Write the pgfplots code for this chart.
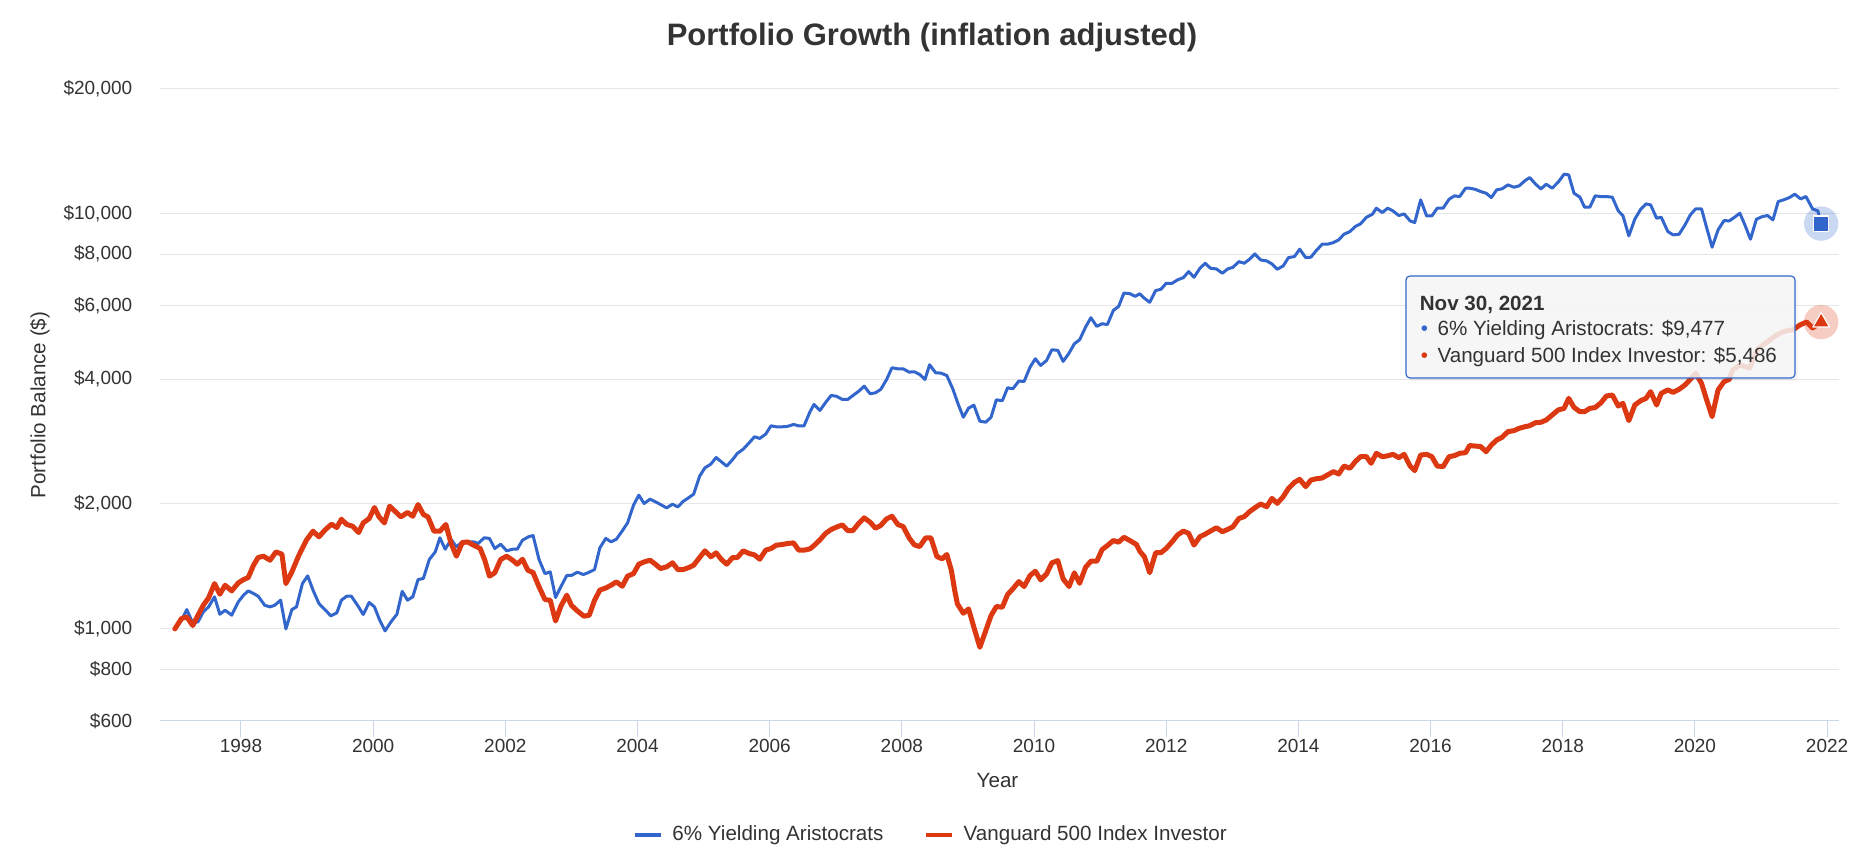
\documentclass[border=0pt]{standalone}
\usepackage{fontspec}
\setmainfont{Liberation Sans}
\usepackage{pgfplots}
\pgfplotsset{compat=1.18}
\usepackage{pgfplotstable}
\definecolor{cblue}{HTML}{3366CC}
\definecolor{cred}{HTML}{DC3912}
\definecolor{gridc}{HTML}{E6E6E6}
\definecolor{axisc}{HTML}{CCD6EB}
\definecolor{txt}{HTML}{333333}
\definecolor{tipfill}{HTML}{F7F7F7}

\pgfplotstableread{
x y
1997.00 1000
1997.10 1049
1997.18 1113
1997.27 1034
1997.35 1040
1997.43 1099
1997.51 1130
1997.60 1195
1997.68 1085
1997.76 1109
1997.86 1079
1997.96 1162
1998.04 1206
1998.11 1235
1998.19 1217
1998.26 1199
1998.36 1140
1998.44 1130
1998.51 1140
1998.60 1173
1998.68 1000
1998.77 1113
1998.84 1130
1998.93 1286
1999.01 1342
1999.09 1240
1999.18 1151
1999.27 1113
1999.36 1075
1999.45 1093
1999.52 1173
1999.60 1199
1999.67 1199
1999.78 1130
1999.85 1083
1999.94 1158
2000.02 1130
2000.10 1049
2000.18 989
2000.27 1040
2000.36 1085
2000.44 1232
2000.52 1173
2000.60 1195
2000.68 1315
2000.76 1323
2000.85 1470
2000.94 1533
2001.01 1658
2001.09 1556
2001.18 1642
2001.26 1577
2001.35 1621
2001.43 1621
2001.52 1621
2001.59 1606
2001.68 1658
2001.76 1652
2001.84 1562
2001.93 1600
2002.02 1542
2002.11 1556
2002.18 1556
2002.26 1636
2002.35 1667
2002.42 1679
2002.51 1470
2002.60 1359
2002.68 1372
2002.76 1190
2002.84 1263
2002.93 1345
2003.00 1345
2003.09 1370
2003.18 1352
2003.27 1370
2003.35 1390
2003.43 1568
2003.52 1652
2003.60 1621
2003.68 1645
2003.77 1723
2003.85 1801
2003.94 1987
2004.02 2100
2004.10 2005
2004.19 2054
2004.27 2024
2004.35 1994
2004.44 1957
2004.53 1998
2004.61 1968
2004.69 2028
2004.78 2074
2004.85 2112
2004.94 2334
2005.02 2444
2005.11 2495
2005.19 2588
2005.27 2527
2005.35 2467
2005.44 2560
2005.51 2647
2005.60 2711
2005.69 2808
2005.77 2904
2005.85 2877
2005.94 2947
2006.02 3086
2006.10 3069
2006.19 3069
2006.27 3076
2006.36 3109
2006.44 3086
2006.52 3086
2006.61 3335
2006.67 3474
2006.76 3360
2006.85 3519
2006.93 3652
2007.01 3636
2007.10 3572
2007.18 3572
2007.26 3652
2007.35 3741
2007.43 3846
2007.52 3686
2007.60 3707
2007.68 3776
2007.77 3992
2007.85 4258
2007.94 4234
2008.02 4234
2008.11 4157
2008.19 4165
2008.27 4103
2008.35 3992
2008.42 4330
2008.51 4142
2008.59 4134
2008.68 4080
2008.77 3790
2008.85 3487
2008.93 3237
2009.01 3404
2009.09 3461
2009.18 3166
2009.27 3149
2009.35 3237
2009.43 3566
2009.52 3546
2009.60 3811
2009.68 3790
2009.77 3955
2009.85 3948
2009.94 4274
2010.02 4476
2010.10 4313
2010.19 4435
2010.27 4706
2010.36 4690
2010.44 4411
2010.53 4619
2010.61 4865
2010.69 4974
2010.78 5338
2010.86 5621
2010.95 5357
2011.03 5437
2011.11 5412
2011.20 5853
2011.28 5985
2011.36 6446
2011.45 6422
2011.53 6328
2011.60 6422
2011.67 6261
2011.75 6124
2011.84 6535
2011.92 6583
2012.00 6806
2012.09 6806
2012.17 6933
2012.26 7023
2012.34 7261
2012.42 7036
2012.51 7396
2012.59 7604
2012.67 7396
2012.76 7369
2012.85 7194
2012.93 7369
2013.01 7437
2013.10 7674
2013.18 7604
2013.26 7776
2013.34 8010
2013.43 7747
2013.52 7704
2013.60 7576
2013.68 7356
2013.77 7493
2013.85 7848
2013.94 7892
2014.02 8220
2014.11 7848
2014.19 7866
2014.27 8159
2014.36 8451
2014.44 8451
2014.53 8529
2014.61 8656
2014.69 8933
2014.78 9066
2014.86 9322
2014.94 9460
2015.03 9816
2015.12 9982
2015.18 10320
2015.27 10074
2015.35 10320
2015.43 10168
2015.52 9908
2015.60 10000
2015.69 9619
2015.76 9530
2015.85 10809
2015.94 9890
2016.02 9890
2016.10 10320
2016.19 10320
2016.28 10848
2016.36 11050
2016.44 11010
2016.53 11532
2016.59 11532
2016.67 11468
2016.76 11318
2016.84 11214
2016.92 10948
2017.00 11426
2017.08 11489
2017.17 11748
2017.26 11596
2017.34 11682
2017.43 12032
2017.50 12234
2017.59 11790
2017.67 11489
2017.75 11790
2017.84 11532
2017.93 11920
2018.02 12464
2018.09 12417
2018.17 11214
2018.26 10970
2018.33 10377
2018.41 10377
2018.49 11050
2018.58 11010
2018.66 11010
2018.75 10970
2018.84 10168
2018.91 9908
2019.00 8851
2019.09 9708
2019.18 10262
2019.26 10571
2019.33 10512
2019.42 9762
2019.49 9816
2019.59 9066
2019.67 8901
2019.76 8933
2019.85 9408
2019.93 9945
2020.01 10281
2020.10 10281
2020.17 9356
2020.26 8311
2020.35 9151
2020.44 9636
2020.52 9619
2020.60 9816
2020.68 10037
2020.76 9373
2020.84 8689
2020.93 9708
2021.02 9853
2021.10 9908
2021.18 9672
2021.26 10708
2021.34 10809
2021.43 10948
2021.51 11154
2021.60 10867
2021.68 11010
2021.78 10281
2021.86 10168
2021.91 9477
}\bluedata

\pgfplotstableread{
x y
1997.00 1000
1997.10 1059
1997.18 1069
1997.27 1019
1997.35 1079
1997.43 1140
1997.51 1188
1997.60 1286
1997.68 1212
1997.76 1274
1997.86 1235
1997.96 1291
1998.04 1315
1998.11 1330
1998.19 1424
1998.26 1486
1998.34 1497
1998.44 1464
1998.53 1533
1998.62 1514
1998.68 1286
1998.77 1372
1998.87 1497
1998.99 1636
1999.09 1720
1999.18 1667
1999.27 1730
1999.37 1788
1999.45 1755
1999.52 1838
1999.60 1785
1999.69 1768
1999.78 1707
1999.85 1801
1999.94 1845
2000.02 1961
2000.09 1862
2000.17 1801
2000.25 1976
2000.34 1915
2000.42 1862
2000.52 1908
2000.60 1869
2000.68 1994
2000.76 1887
2000.83 1862
2000.92 1720
2001.01 1720
2001.10 1785
2001.18 1606
2001.26 1497
2001.35 1615
2001.43 1620
2001.52 1591
2001.62 1562
2001.69 1464
2001.76 1340
2001.84 1365
2001.93 1470
2002.02 1497
2002.11 1464
2002.18 1432
2002.26 1472
2002.34 1385
2002.42 1367
2002.51 1263
2002.60 1177
2002.68 1172
2002.76 1045
2002.84 1134
2002.93 1206
2003.00 1140
2003.09 1105
2003.19 1073
2003.27 1079
2003.35 1172
2003.43 1240
2003.52 1255
2003.60 1274
2003.68 1298
2003.77 1267
2003.85 1340
2003.94 1359
2004.02 1432
2004.10 1450
2004.19 1464
2004.27 1432
2004.35 1398
2004.44 1411
2004.53 1443
2004.61 1390
2004.69 1390
2004.78 1406
2004.85 1424
2004.94 1486
2005.02 1542
2005.11 1492
2005.19 1525
2005.27 1470
2005.35 1432
2005.44 1486
2005.51 1486
2005.60 1542
2005.69 1519
2005.77 1508
2005.85 1472
2005.94 1548
2006.02 1562
2006.10 1591
2006.19 1597
2006.27 1606
2006.36 1612
2006.44 1548
2006.52 1548
2006.61 1559
2006.67 1588
2006.76 1639
2006.85 1701
2006.93 1736
2007.01 1759
2007.10 1781
2007.18 1726
2007.26 1726
2007.35 1798
2007.43 1852
2007.52 1808
2007.60 1749
2007.68 1775
2007.77 1842
2007.85 1869
2007.94 1784
2008.02 1765
2008.11 1657
2008.19 1594
2008.27 1579
2008.36 1657
2008.44 1657
2008.53 1494
2008.61 1475
2008.68 1511
2008.75 1382
2008.80 1237
2008.84 1149
2008.93 1091
2009.01 1117
2009.09 1009
2009.18 903
2009.27 991
2009.35 1077
2009.43 1132
2009.52 1128
2009.60 1210
2009.68 1249
2009.77 1300
2009.85 1265
2009.94 1345
2010.02 1377
2010.10 1313
2010.19 1357
2010.27 1443
2010.36 1461
2010.44 1320
2010.53 1265
2010.61 1365
2010.69 1288
2010.78 1408
2010.86 1456
2010.95 1456
2011.03 1553
2011.11 1588
2011.20 1633
2011.28 1618
2011.36 1663
2011.45 1633
2011.55 1597
2011.60 1539
2011.67 1492
2011.75 1366
2011.84 1526
2011.92 1526
2012.00 1563
2012.09 1622
2012.17 1683
2012.26 1721
2012.34 1699
2012.42 1592
2012.51 1668
2012.59 1692
2012.67 1721
2012.76 1753
2012.85 1715
2012.93 1737
2013.01 1763
2013.10 1846
2013.18 1864
2013.26 1916
2013.35 1963
2013.43 2000
2013.52 1970
2013.60 2063
2013.68 2007
2013.77 2082
2013.85 2181
2013.94 2255
2014.02 2293
2014.11 2202
2014.19 2284
2014.27 2300
2014.36 2310
2014.44 2349
2014.53 2393
2014.61 2362
2014.69 2469
2014.78 2438
2014.86 2529
2014.94 2600
2015.03 2600
2015.10 2506
2015.18 2649
2015.27 2600
2015.35 2612
2015.43 2634
2015.52 2586
2015.60 2634
2015.69 2469
2015.76 2406
2015.85 2624
2015.94 2634
2016.02 2600
2016.10 2469
2016.19 2460
2016.28 2600
2016.36 2615
2016.44 2649
2016.53 2659
2016.59 2765
2016.67 2759
2016.76 2749
2016.84 2673
2016.92 2774
2017.00 2852
2017.08 2894
2017.17 2987
2017.26 3004
2017.34 3043
2017.43 3071
2017.50 3088
2017.59 3140
2017.67 3147
2017.75 3187
2017.84 3276
2017.93 3369
2018.02 3400
2018.09 3594
2018.17 3419
2018.26 3338
2018.33 3338
2018.41 3400
2018.49 3415
2018.58 3509
2018.66 3640
2018.75 3661
2018.84 3444
2018.91 3496
2019.00 3176
2019.09 3463
2019.18 3548
2019.26 3594
2019.33 3730
2019.42 3463
2019.49 3696
2019.59 3765
2019.67 3716
2019.76 3779
2019.85 3871
2019.93 3994
2020.01 4129
2020.10 3907
2020.17 3594
2020.26 3247
2020.35 3765
2020.44 3943
2020.52 3994
2020.57 4206
2020.68 4325
2020.83 4253
2020.94 4699
2021.03 4832
2021.13 4968
2021.23 5099
2021.33 5194
2021.41 5240
2021.48 5252
2021.59 5400
2021.69 5490
2021.78 5311
2021.91 5486
}\reddata

\begin{document}
\begin{tikzpicture}[x=1pt,y=1pt]
\useasboundingbox (0pt,0pt) rectangle (932.5pt,427.5pt);
\fill[white] (0pt,0pt) rectangle (932.5pt,427.5pt);
\begin{axis}[
  at={(80pt,67pt)}, anchor=south west,
  scale only axis, width=839.5pt, height=316pt,
  xmin=1996.775, xmax=2022.18,
  ymode=log, log basis y=10, ymin=600, ymax=20000,
  axis x line*=bottom, axis y line*=left,
  x axis line style={draw=axisc, line width=0.5pt, -},
  y axis line style={draw=none},
  xtick={1998,2000,...,2022},
  xticklabels={1998,2000,2002,2004,2006,2008,2010,2012,2014,2016,2018,2020,2022},
  ytick={600,800,1000,2000,4000,6000,8000,10000,20000},
  yticklabels={{\$600},{\$800},{\$1,000},{\$2,000},{\$4,000},{\$6,000},{\$8,000},{\$10,000},{\$20,000}},
  tick align=outside, major tick length=8pt,
  xtick style={draw=axisc, line width=0.5pt},
  ytick style={draw=none},
  minor tick num=0,
  ymajorgrids, major grid style={draw=gridc, line width=0.5pt},
  tick label style={font=\fontsize{9.5}{11}\selectfont, text=txt},
  xticklabel style={anchor=north, inner sep=0pt, yshift=-0.8pt},
  yticklabel style={anchor=east, inner sep=0pt, xshift=-5.7pt},
  clip=false,
  every axis plot/.append style={line join=round, line cap=round},
  legend style={at={(0.4586,-0.1804)}, anchor=center, draw=none, fill=none,
    legend columns=2, font=\fontsize{10.3}{12}\selectfont, text=txt,
    nodes={inner sep=0pt},
    /tikz/every odd column/.append style={column sep=5pt},
    /tikz/every even column/.append style={column sep=20.5pt}},
  legend cell align=left,
  legend image code/.code={\draw[#1, line width=1.6pt, line cap=butt] (0pt,0pt) -- (13pt,0pt);},
]
\addplot[cblue, line width=1.5pt, no marks] table[x=x, y=y] {\bluedata};
\addlegendentry{6\% Yielding Aristocrats}
\addplot[cred, line width=2.5pt, no marks] table[x=x, y=y] {\reddata};
\addlegendentry{Vanguard 500 Index Investor}
\addplot[forget plot, only marks, draw=none, mark=*, mark size=8.6pt, mark options={draw=none, draw opacity=0, fill=cblue, fill opacity=0.25}] coordinates {(2021.91,9477)};
\addplot[forget plot, only marks, mark=square*, mark size=3.8pt, mark options={draw=white, line width=0.6pt, fill=cblue}] coordinates {(2021.91,9477)};
\addplot[forget plot, only marks, draw=none, mark=*, mark size=8.6pt, mark options={draw=none, draw opacity=0, fill=cred, fill opacity=0.25}] coordinates {(2021.91,5486)};
\addplot[forget plot, only marks, mark=triangle*, mark size=4.8pt, mark options={draw=white, line width=0.6pt, fill=cred}] coordinates {(2021.91,5486)};
\end{axis}
% tooltip
\fill[black, opacity=0.035, rounded corners=2pt] (704.5pt,237pt) rectangle (899pt,288pt);
\draw[cblue, line width=0.6pt, rounded corners=2pt, fill=tipfill, fill opacity=0.85] (703pt,238.5pt) rectangle (897.5pt,289.5pt);
\node[anchor=base west, inner sep=0pt, text=txt, font=\fontsize{10.3}{12}\selectfont\bfseries] at (709.7pt,272pt) {Nov 30, 2021};
\node[anchor=base, inner sep=0pt, text=cblue, font=\fontsize{10.3}{12}\selectfont] at (712.2pt,259.5pt) {•};
\node[anchor=base west, inner sep=0pt, text=txt, font=\fontsize{10.3}{12}\selectfont] at (718.6pt,259.5pt) {6\% Yielding Aristocrats: \$9,477};
\node[anchor=base, inner sep=0pt, text=cred, font=\fontsize{10.3}{12}\selectfont] at (712.2pt,246.3pt) {•};
\node[anchor=base west, inner sep=0pt, text=txt, font=\fontsize{10.3}{12}\selectfont] at (718.6pt,246.3pt) {Vanguard 500 Index Investor: \$5,486};
% titles
\node[text=txt, font=\fontsize{15.5}{18}\selectfont\bfseries] at (466pt,408.5pt) {Portfolio Growth (inflation adjusted)};
\node[text=txt, rotate=90, font=\fontsize{10.3}{12}\selectfont] at (20pt,225pt) {Portfolio Balance (\$)};
\node[text=txt, font=\fontsize{10.3}{12}\selectfont] at (498.75pt,37pt) {Year};
\end{tikzpicture}
\end{document}
